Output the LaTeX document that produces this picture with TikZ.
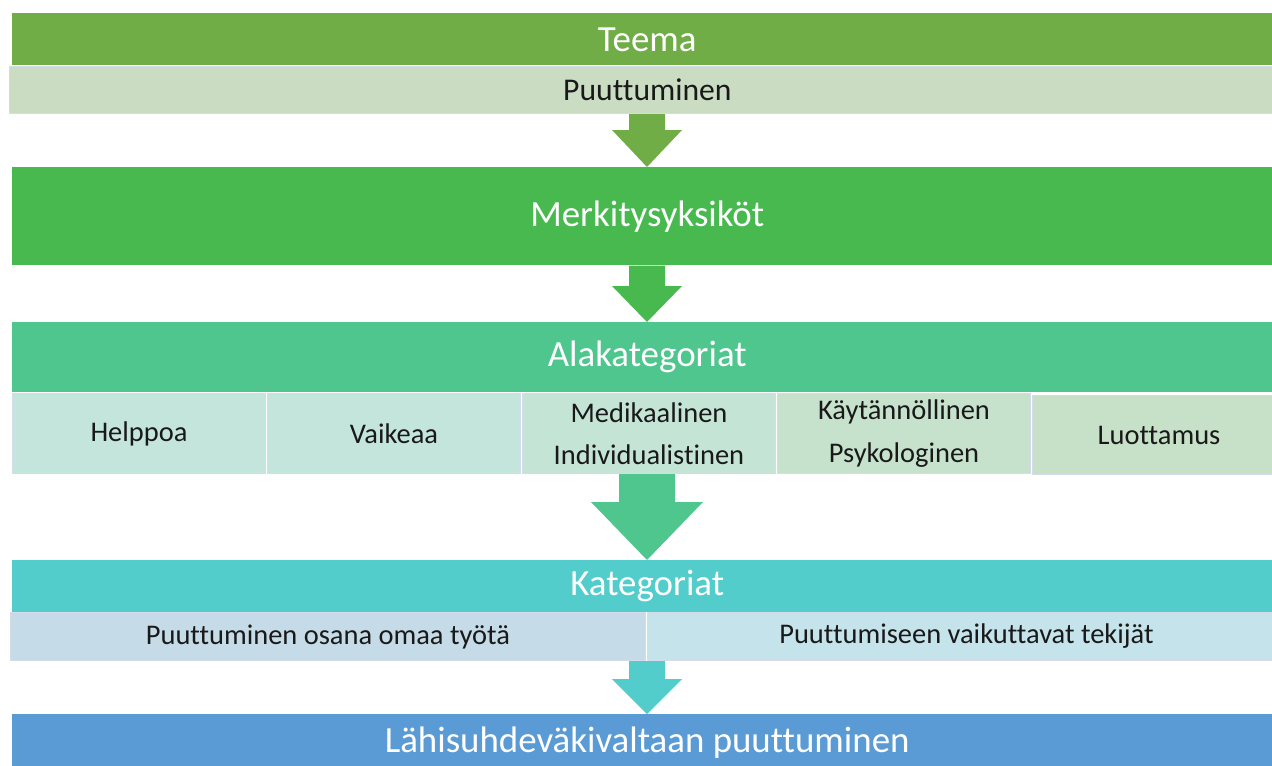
\documentclass[tikz,border=0pt]{standalone}
\usepackage{fontspec}
\setmainfont{Carlito}[Ligatures=CommonOff]
\usetikzlibrary{calc}

\definecolor{teemagreen}{HTML}{70AD47}
\definecolor{teemalight}{HTML}{CADDC3}
\definecolor{merkgreen}{HTML}{48B94F}
\definecolor{alakgreen}{HTML}{4EC68E}
\definecolor{katteal}{HTML}{53CCCC}
\definecolor{finalblue}{HTML}{5B9BD5}
\definecolor{celltealA}{HTML}{C3E5DC}
\definecolor{celltealB}{HTML}{C4E4D6}
\definecolor{celltealC}{HTML}{C6E2CC}
\definecolor{celltealD}{HTML}{C6E1C8}
\definecolor{katblueA}{HTML}{C5DCE8}
\definecolor{katblueB}{HTML}{C5E3EA}
\definecolor{cellline}{HTML}{D4DBEA}

% fat arrow: colour, from, to, half shaft, half head, head length
\newcommand{\fatarrow}[6]{%
  \coordinate (s) at (#2.south -| mid);
  \coordinate (t) at (#3.north -| mid);
  \fill[#1] ($(s)+(-#4,0)$) -- ($(s)+(#4,0)$) -- ($(t)+(#4,-#6)$) -- ($(t)+(#5,-#6)$)
    -- (t) -- ($(t)+(-#5,-#6)$) -- ($(t)+(-#4,-#6)$) -- cycle;
}

\begin{document}
\begin{tikzpicture}[x=0.02cm,y=-0.02cm,
  head/.style={anchor=north west, inner sep=0pt, text=white, font=\fontsize{21}{25}\selectfont},
  cell/.style={anchor=north west, inner sep=0pt, draw=cellline, line width=0.6pt,
    font=\fontsize{16.2}{24}\selectfont, align=center, text=black!90}]

    \useasboundingbox (0,0) rectangle (1272,765);
    \coordinate (mid) at (647,0);

    %teema
    \node[head, fill=teemagreen, minimum width=25.4cm, minimum height=1.04cm] (teema) at (12,13) {Teema};
    \node[cell, fill=teemalight, minimum width=25.52cm, minimum height=0.94cm,
      font=\fontsize{18}{24}\selectfont] (puutt) at (9,66) {Puuttuminen};

    %merkitysyksikot
    \node[head, fill=merkgreen, minimum width=25.4cm, minimum height=1.96cm] (merk) at (12,167) {Merkitysyksiköt};

    %alakategoriat
    \node[head, fill=alakgreen, minimum width=25.4cm, minimum height=1.4cm] (alak) at (12,322) {\raisebox{-4pt}{Alakategoriat}};
    \node[cell, fill=celltealA, minimum width=5.06cm, minimum height=1.6cm] (helppoa) at (12,393) {Helppoa};
    \node[cell, fill=celltealA, minimum width=5.06cm, minimum height=1.6cm] (vaikeaa) at (267,393) {Vaikeaa};
    \node[cell, fill=celltealB, minimum width=5.06cm, minimum height=1.6cm] (medik) at (522,393) {Medikaalinen\\Individualistinen};
    \node[cell, fill=celltealC, minimum width=5.06cm, minimum height=1.6cm] (kayt) at (777,393) {Käytännöllinen\\Psykologinen};
    \node[cell, fill=celltealD, minimum width=5.06cm, minimum height=1.58cm] (luott) at (1032,395) {Luottamus};

    %kategoriat
    \node[head, fill=katteal, minimum width=25.4cm, minimum height=1.04cm] (kateg) at (12,560) {Kategoriat};
    \node[cell, fill=katblueA, minimum width=12.7cm, minimum height=0.96cm] (osana) at (10,612) {Puuttuminen osana omaa työtä};
    \node[cell, fill=katblueB, minimum width=12.76cm, minimum height=0.96cm] (tekijat) at (647,612) {Puuttumiseen vaikuttavat tekijät};

    %lahisuhdevakivalta
    \node[head, fill=finalblue, minimum width=25.4cm, minimum height=1.12cm] (lahi) at (12,714) {Lähisuhdeväkivaltaan puuttuminen};

    %arrows
    \fatarrow{teemagreen}{puutt}{merk}{18}{35}{37}
    \fatarrow{merkgreen}{merk}{alak}{18}{35}{36}
    \fatarrow{alakgreen}{medik}{kateg}{28}{56}{58}
    \fatarrow{katteal}{osana}{lahi}{18}{35}{35}

\end{tikzpicture}
\end{document}
